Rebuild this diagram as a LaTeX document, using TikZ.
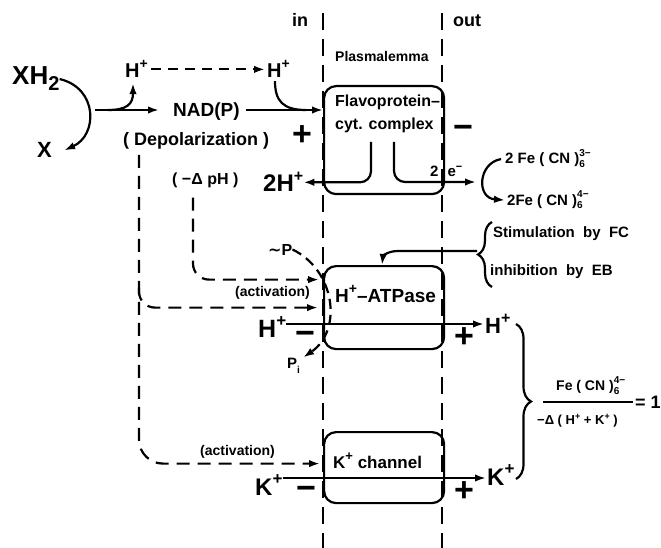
\documentclass[tikz,border=0pt]{standalone}
\usepackage{fontspec}
\setmainfont{Liberation Sans}
\newfontfamily\dejavu{DejaVu Sans}
\usetikzlibrary{arrows.meta,decorations.pathreplacing}
\newcommand\fsz[1]{\fontsize{#1}{#1}\selectfont}
\newcommand\pls[2]{\raisebox{#1}{\fsz{#2}+}}
\newcommand\supsub[2]{{\fsz{10}\rlap{\raisebox{7pt}{#1}}\raisebox{-4pt}{#2}}}
\begin{document}
\begin{tikzpicture}[x=1pt,y=-1pt,
  lbl/.style={inner sep=0pt, font=\bfseries\fsz{#1}},
  lbl/.default=16,
  ln/.style={line width=2.2pt},
  arr/.style={line width=2.2pt, -{Latex[length=11pt,width=7.5pt]}},
  dsh/.style={dash pattern=on 13pt off 8pt},
  dshb/.style={dash pattern=on 10pt off 7pt},
  dshc/.style={dash pattern=on 10pt off 6pt},
  membrane/.style={line width=1.8pt, dash pattern=on 17pt off 9pt},
  box/.style={draw, line width=2.2pt, rounded corners=12pt, inner sep=0pt}]
\useasboundingbox (0,0) rectangle (661,548);

% membrane
\coordinate (mL1) at (323,13); \coordinate (mL2) at (323,548);
\coordinate (mR1) at (442,13); \coordinate (mR2) at (442,548);
\draw[membrane] (mL1) -- (mL2);
\draw[membrane] (mR1) -- (mR2);

% boxes
\node[box, minimum width=120pt, minimum height=108pt, anchor=north west] (flav) at (323,85) {};
\node[box, minimum width=120pt, minimum height=83pt, anchor=north west] (atp) at (323,265) {};
\node[box, minimum width=120pt, minimum height=71pt, anchor=north west] (kch) at (323,431) {};

% labels
\node[lbl=18, anchor=base west] (in) at (292,27) {in};
\node[lbl=18, anchor=base west] (out) at (453,27) {out};
\node[lbl=14, anchor=base west] (plas) at (335,62) {Plasmalemma};
\node[lbl=26, anchor=base west] (xh) at (12,85) {XH\raisebox{-6pt}{\fsz{20}2}};
\node[lbl=22, anchor=base west] (x) at (37,158) {X};
\node[lbl=20, anchor=base west] (hl) at (125,78) {H\pls{9pt}{14}};
\node[lbl=20, anchor=base west] (hr) at (267,78) {H\pls{9pt}{14}};
\node[lbl=19, anchor=base west] (nad) at (173,117) {NAD(P)};
\node[lbl=18, anchor=base west] (dep) at (123,146) {( Depolarization )};
\node[lbl=34] (pf) at (302,136) {+};
\node[lbl=34] (mf) at (463,132) {−};
\node[lbl=16, anchor=base west] (dph) at (172,185) {( −Δ pH )};
\node[lbl=24, anchor=base west] (h2) at (263,192) {2H\pls{10pt}{16}};
\node[lbl=16, anchor=base west] (fl1) at (335,107) {Flavoprotein–};
\node[lbl=16, anchor=base west] (fl2) at (335,130) {cyt. complex};
\node[lbl=15, anchor=base west] (el) at (430,177) {2\hspace{9pt}e\raisebox{6pt}{\fsz{11}−}};
\node[lbl=15, anchor=base west] (fe3) at (505,164) {2 Fe ( CN )\supsub{3−}{6}};
\node[lbl=15, anchor=base west] (fe4) at (507,205) {2Fe ( CN )\supsub{4−}{6}};
\node[lbl=15, anchor=base west] (stim) at (493,237) {Stimulation \ by \ FC};
\node[lbl=15, anchor=base west] (inh) at (490,275) {inhibition \ by \ EB};
\node[lbl=16, anchor=base west] (tp) at (268,255) {{\dejavu\bfseries ∼}P};
\node[lbl=15, anchor=base west] (pi) at (287,368) {P\raisebox{-5pt}{\fsz{10}i}};
\node[lbl=14, anchor=base west] (act1) at (235,296) {(activation)};
\node[lbl=14, anchor=base west] (act2) at (200,455) {(activation)};
\node[lbl=19, anchor=base west] (atpl) at (335,302) {H\pls{9pt}{14}–ATPase};
\node[lbl=25, anchor=base west] (hp2) at (258,337) {H\pls{11pt}{17}};
\node[lbl=22, anchor=base west] (hp3) at (485,333) {H\pls{10pt}{16}};
\node[lbl=34] (ma) at (305,338) {−};
\node[lbl=34] (pa) at (464,338) {+};
\node[lbl=17, anchor=base west] (kchl) at (333,468) {K\pls{8pt}{13} channel};
\node[lbl=24, anchor=base west] (kp2) at (255,495) {K\pls{11pt}{17}};
\node[lbl=24, anchor=base west] (kp3) at (487,485) {K\pls{11pt}{17}};
\node[lbl=34] (mk) at (306,493) {−};
\node[lbl=34] (pk) at (464,492) {+};
\node[lbl=14, anchor=base west] (num) at (556,390) {Fe ( CN )\supsub{4−}{6}};
\node[lbl=13, anchor=base west] (den) at (537,424) {−Δ ( H\pls{5pt}{9} + K\pls{5pt}{9} )};
\node[lbl=18, anchor=west] (eq) at (635,402) {= 1};

% connectors
\draw[arr] (xh.east) .. controls (98,88) and (98,135) .. ([xshift=12pt]x.east);
\coordinate (a0) at (95,110);
\draw[arr, shorten >=14pt] (a0) -- (a0 -| nad.west);
\coordinate (b0) at (108,110);
\draw[arr] (b0) .. controls (127,110) and (133,104) .. ([xshift=8pt,yshift=-5pt]hl.south west);
\draw[arr, dshb, shorten <=3pt, shorten >=2pt] (hl.east) -- (hl.east -| hr.west);
\draw[arr, shorten <=6pt] (nad.east |- a0) -- (a0 -| flav.west);
\coordinate (j1) at (306,110);
\draw[ln] ([xshift=8pt,yshift=-3pt]hr.south west) .. controls (275,101) and (283,110) .. (j1);

\coordinate (u1) at (371,142);
\coordinate (u2) at (394,142);
\coordinate (u3) at (476,182);
\draw[arr, rounded corners=11pt] (u1) |- (h2.east);
\draw[arr, rounded corners=11pt] (u2) |- (u3);
\draw[arr] ([xshift=-4pt]fe3.west) .. controls (478,163) and (476,198) .. ([xshift=-2pt]fe4.west);

\coordinate (s1) at (492,287); \coordinate (s2) at (492,222);
\draw[ln, decorate, decoration={brace, amplitude=14pt}] (s1) -- (s2);
\coordinate (bt) at (477,251);
\draw[arr] (bt) -- (398,251) .. controls (388,251) and (383,256) .. ([xshift=59pt]atp.north west);

\draw[arr, dsh, rounded corners=16pt, shorten <=9pt, shorten >=4pt] ([xshift=21pt]dph.south west) |- ([yshift=28pt]atp.west);
\draw[arr, dsh, rounded corners=24pt, shorten <=5pt, shorten >=3pt] ([xshift=16pt]dep.south west) |- ([yshift=4pt]kch.west);
\coordinate (d1) at (139,288);
\draw[arr, dsh, rounded corners=16pt, shorten >=5pt] (d1) |- (atp.west);

\draw[arr, dshc] (tp.east) .. controls (335,270) and (343,330) .. ([xshift=3pt]pi.north east);

\coordinate (hy) at (300,324);
\draw[arr, shorten >=1pt] (hp2.east |- hy) -- (hy -| hp3.west);
\coordinate (ky) at (300,478);
\draw[arr, shorten >=1pt] (kp2.east |- ky) -- (ky -| kp3.west);

\coordinate (r1) at (516,324); \coordinate (r2) at (516,479);
\draw[ln, decorate, decoration={brace, amplitude=15pt}] (r1) -- (r2);
\coordinate (f1) at (543,402); \coordinate (f2) at (633,402);
\draw[line width=1.6pt] (f1) -- (f2);
\end{tikzpicture}
\end{document}
